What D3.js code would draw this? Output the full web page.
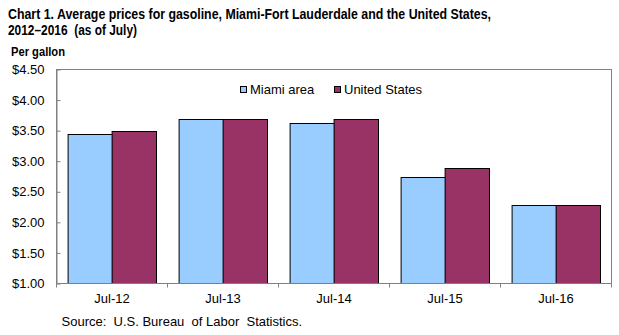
<!DOCTYPE html>
<html>
<head>
<meta charset="utf-8">
<script src="https://cdn.jsdelivr.net/npm/d3@7"></script>
<style>
  html, body { margin: 0; padding: 0; background: #fff; }
  text { font-family: Arial, "Liberation Sans", sans-serif; fill: #000; }
</style>
</head>
<body>
<svg id="chart" width="619" height="335"></svg>
<script>
const categories = ["Jul-12", "Jul-13", "Jul-14", "Jul-15", "Jul-16"];
const seriesNames = ["Miami area", "United States"];
const miamiValues = [3.45, 3.69, 3.63, 2.75, 2.29];
const usValues = [3.50, 3.69, 3.69, 2.89, 2.29];
const yTicks = [1.00, 1.50, 2.00, 2.50, 3.00, 3.50, 4.00, 4.50];
const colors = ["#99CCFF", "#993366"];
const titleLines = ["Chart 1. Average prices for gasoline, Miami-Fort Lauderdale and the United States,", "2012\u20132016  (as of July)"];
const yLabel = "Per gallon";
const sourceText = "Source:  U.S. Bureau  of Labor  Statistics.";

(function () {
const svg = d3.select("#chart");
const pLeft = 56.5, pRight = 611.5, pTop = 69.5, pBottom = 283.5;

const seriesValues = [miamiValues, usValues];
const data = categories.map((c, i) => ({ cat: c, vals: seriesNames.map((s, j) => ({ s, v: seriesValues[j][i], j })) }));

const x0 = d3.scaleBand().domain(categories).range([pLeft, pRight]).paddingInner(0.2).paddingOuter(0.1);
const x1 = d3.scaleBand().domain(seriesNames).range([0, x0.bandwidth()]);
const y = d3.scaleLinear().domain([1, 4.5]).range([pBottom, pTop]);

// Title
titleLines.forEach((t, i) => {
  svg.append("text")
    .attr("x", 8).attr("y", 18.5 + i * 16)
    .attr("font-size", 15.5).attr("font-weight", "bold")
    .attr("textLength", i === 0 ? 483 : 129).attr("lengthAdjust", "spacingAndGlyphs")
    .style("white-space", "pre")
    .text(t);
});
svg.append("text").attr("x", 11).attr("y", 56).attr("font-size", 12.5).attr("font-weight", "bold")
  .attr("textLength", 54).attr("lengthAdjust", "spacingAndGlyphs").text(yLabel);

// Bars
const groups = svg.append("g").selectAll("g").data(data).join("g")
  .attr("transform", d => `translate(${x0(d.cat)},0)`);
groups.selectAll("rect").data(d => d.vals).join("rect")
  .attr("x", d => Math.round(x1(d.s)) + 0.5)
  .attr("y", d => Math.round(y(d.v)) + 0.5)
  .attr("width", x1.bandwidth())
  .attr("height", d => pBottom - Math.round(y(d.v)) - 0.5)
  .attr("fill", d => colors[d.j])
  .attr("stroke", "#000").attr("stroke-width", 1);

// Frame
svg.append("rect").attr("x", pLeft).attr("y", pTop).attr("width", pRight - pLeft).attr("height", pBottom - pTop)
  .attr("fill", "none").attr("stroke", "#808080").attr("stroke-width", 1);

// Y axis
const yAxis = d3.axisLeft(y).tickValues(yTicks).tickSizeInner(-4).tickSizeOuter(0).tickPadding(12)
  .tickFormat(d => "$" + d3.format(".2f")(d));
const yg = svg.append("g").attr("transform", `translate(${pLeft},0)`).call(yAxis);
yg.select(".domain").attr("stroke", "#808080");
yg.selectAll(".tick line").attr("stroke", "#808080");
yg.selectAll(".tick text").attr("font-size", 13).attr("fill", "#000").attr("font-family", "Arial, 'Liberation Sans', sans-serif");

// X axis: ticks at category boundaries
const xg = svg.append("g").attr("transform", `translate(0,${pBottom})`);
xg.append("line").attr("x1", pLeft).attr("x2", pRight).attr("stroke", "#808080");
const boundaries = categories.map((c, i) => pLeft + i * x0.step()).concat([pRight]);
xg.selectAll("line.tk").data(boundaries).join("line").attr("class", "tk")
  .attr("x1", d => Math.round(d - 0.5) + 0.5).attr("x2", d => Math.round(d - 0.5) + 0.5).attr("y1", 0).attr("y2", 4)
  .attr("stroke", "#808080");
xg.selectAll("text.lbl").data(categories).join("text").attr("class", "lbl")
  .attr("x", d => x0(d) + x0.bandwidth() / 2).attr("y", 19.5)
  .attr("text-anchor", "middle").attr("font-size", 13).text(d => d);

// Legend
const legendItems = [{ name: seriesNames[0], x: 240.5, c: colors[0] }, { name: seriesNames[1], x: 334.5, c: colors[1] }];
const lg = svg.append("g");
legendItems.forEach(it => {
  lg.append("rect").attr("x", it.x).attr("y", 86.5).attr("width", 6).attr("height", 6)
    .attr("fill", it.c).attr("stroke", "#000");
  lg.append("text").attr("x", it.x + 9.5).attr("y", 94).attr("font-size", 13).text(it.name);
});

// Source
svg.append("text").attr("x", 61.5).attr("y", 326).attr("font-size", 13).style("white-space", "pre").text(sourceText);
})();
</script>
</body>
</html>
